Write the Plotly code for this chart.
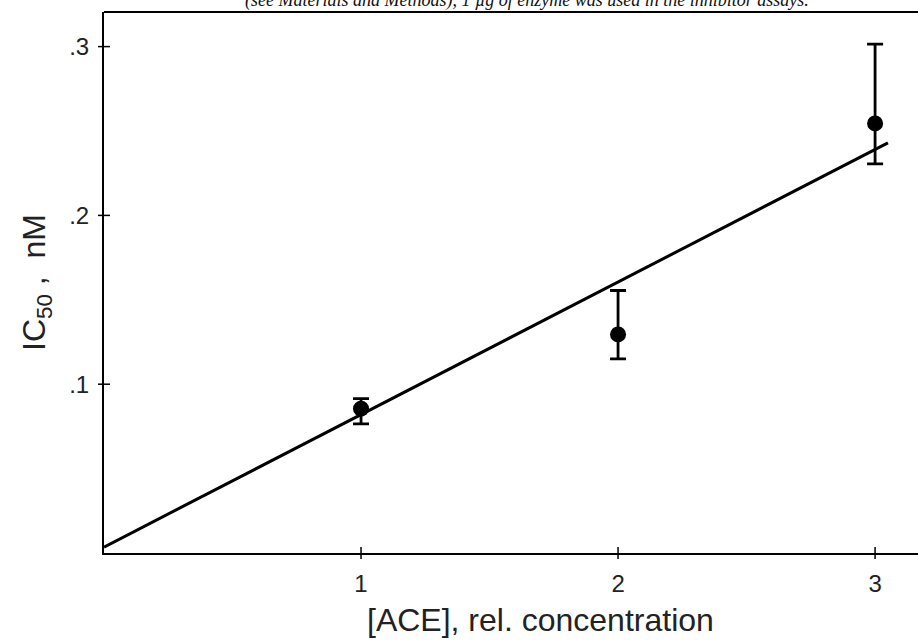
import plotly.graph_objects as go

# Data
ace_conc = [1, 2, 3]
ic50 = [0.0855, 0.1295, 0.2545]
err_upper = [0.0915, 0.1555, 0.3015]
err_lower = [0.0765, 0.1150, 0.2305]

fit_x = [0.0, 3.05]
fit_y = [0.0035, 0.2430]

y_tickvals = [0.1, 0.2, 0.3]
y_ticktext = [".1", ".2", ".3"]
x_tickvals = [1, 2, 3]
x_ticktext = ["1", "2", "3"]

x_title = "[ACE], rel. concentration"
y_title = "IC<sub>50</sub>&nbsp;,&nbsp;&nbsp;nM"
caption = "(see Materials and Methods), 1 µg of enzyme was used in the inhibitor assays."

XR = [0, 3.167]
YR = [0, 0.3205]

plus = [u - v for u, v in zip(err_upper, ic50)]
minus = [v - l for v, l in zip(ic50, err_lower)]

fig = go.Figure()
fig.add_trace(go.Scatter(
    x=fit_x, y=fit_y, mode="lines",
    line=dict(color="black", width=3), showlegend=False, hoverinfo="skip"))
fig.add_trace(go.Scatter(
    x=ace_conc, y=ic50, mode="markers",
    marker=dict(color="black", size=16),
    error_y=dict(type="data", symmetric=False, array=plus, arrayminus=minus,
                 color="black", thickness=2.8, width=8),
    showlegend=False))

font_family = "Liberation Sans, Arial, sans-serif"
tick_font = dict(family=font_family, size=24, color="#222")
title_font = dict(family=font_family, size=32, color="#222")

# crossing tick marks (both sides of the axis lines)
tick_shapes = []
for v in x_tickvals:
    tick_shapes.append(dict(type="line", xref="x", x0=v, x1=v, yref="paper",
                            ysizemode="pixel", yanchor=0, y0=-6, y1=6,
                            line=dict(color="black", width=1.5)))
for v in y_tickvals:
    tick_shapes.append(dict(type="line", yref="y", y0=v, y1=v, xref="paper",
                            xsizemode="pixel", xanchor=0, x0=-6, x1=6,
                            line=dict(color="black", width=1.5)))

fig.update_layout(
    width=918, height=643,
    margin=dict(l=104, r=0, t=12, b=90),
    paper_bgcolor="white", plot_bgcolor="white",
    xaxis=dict(range=XR, tickvals=x_tickvals, ticktext=x_ticktext, automargin=False,
               showgrid=False, zeroline=False, showline=True, linecolor="black", linewidth=2,
               ticks="outside", ticklen=8, tickcolor="rgba(0,0,0,0)",
               tickfont=tick_font),
    yaxis=dict(range=YR, tickvals=y_tickvals, ticktext=y_ticktext, automargin=False,
               showgrid=False, zeroline=False, showline=True, linecolor="black", linewidth=2,
               ticks="outside", ticklen=8, tickcolor="rgba(0,0,0,0)",
               tickfont=tick_font,
               title=dict(text=y_title, font=title_font, standoff=14)),
    shapes=[dict(type="line", xref="paper", yref="paper", x0=0, x1=1, y0=1, y1=1,
                 line=dict(color="black", width=2))] + tick_shapes,
    annotations=[
        dict(text="<i>" + caption + "</i>", xref="paper", yref="paper", x=0.52, y=1,
             xanchor="center", yanchor="bottom", yshift=-1, showarrow=False,
             font=dict(family="Liberation Serif, serif", size=18, color="#111")),
        dict(text=x_title, xref="paper", yref="paper", x=0.536, y=0,
             xanchor="center", yanchor="middle", yshift=-67, showarrow=False,
             font=title_font),
    ],
)

fig.write_html("out.html", config={"displayModeBar": False},
               post_script="document.body.style.margin='0';document.body.style.overflow='hidden';")
